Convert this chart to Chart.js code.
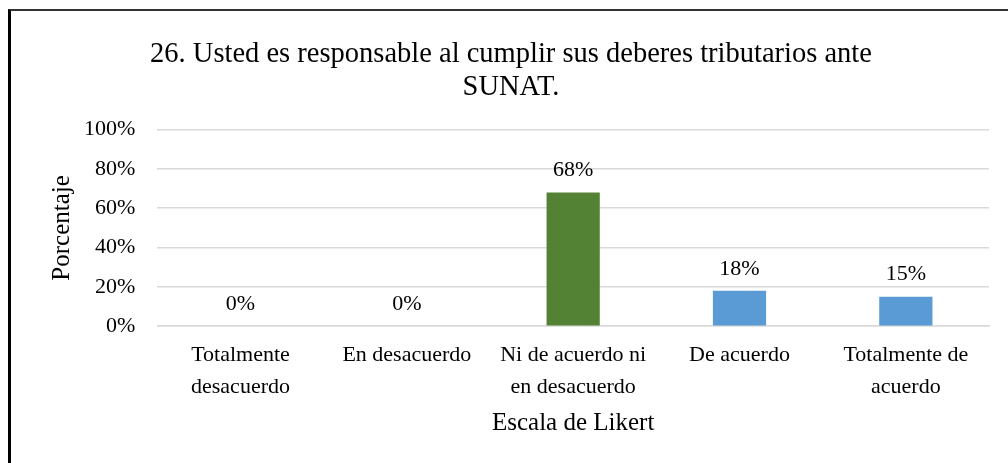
<!DOCTYPE html>
<html>
<head>
<meta charset="utf-8">
<script src="https://cdn.jsdelivr.net/npm/chart.js@4.4.1/dist/chart.umd.min.js"></script>
<style>
  html, body { margin: 0; padding: 0; background: #fff; }
  #wrap { position: relative; width: 1008px; height: 463px; overflow: hidden; }
  /* marco del gráfico (solo se ven los bordes izquierdo y superior) */
  #marco { position: absolute; left: 8px; top: 9px; width: 1100px; height: 600px;
           border-left: 3px solid #000; border-top: 2px solid #333; box-sizing: border-box; }
  #grafico { position: absolute; left: 0; top: 0; }
</style>
</head>
<body>
<div id="wrap">
  <div id="marco"></div>
  <canvas id="grafico" width="1008" height="463"></canvas>
</div>
<script>
// Datos de la pregunta 26
const categorias = [
  ['Totalmente', 'desacuerdo'],
  ['En desacuerdo'],
  ['Ni de acuerdo ni', 'en desacuerdo'],
  ['De acuerdo'],
  ['Totalmente de', 'acuerdo']
];
const porcentajes = [0, 0, 68, 18, 15];
const coloresBarra = ['#5B9BD5', '#5B9BD5', '#548235', '#5B9BD5', '#5B9BD5'];
const ticksY = [0, 20, 40, 60, 80, 100];

const fuente = "'Liberation Serif', 'Times New Roman', serif";

// Etiquetas de valor encima de cada barra
const etiquetasValor = {
  id: 'etiquetasValor',
  afterDatasetsDraw(chart) {
    const ctx = chart.ctx;
    const meta = chart.getDatasetMeta(0);
    ctx.save();
    ctx.font = '22px ' + fuente;
    ctx.fillStyle = '#000';
    ctx.textAlign = 'center';
    ctx.textBaseline = 'middle';
    meta.data.forEach((barra, i) => {
      ctx.fillText(porcentajes[i] + '%', barra.x, barra.y - 22);
    });
    ctx.restore();
  }
};

new Chart(document.getElementById('grafico'), {
  type: 'bar',
  data: {
    labels: categorias,
    datasets: [{
      data: porcentajes,
      backgroundColor: coloresBarra,
      borderWidth: 0,
      barPercentage: 0.32,
      categoryPercentage: 1
    }]
  },
  options: {
    responsive: false,
    animation: false,
    layout: { padding: { top: 28, left: 33, right: 19, bottom: 25 } },
    plugins: {
      legend: { display: false },
      tooltip: { enabled: false },
      title: {
        display: true,
        text: ['26. Usted es responsable al cumplir sus deberes tributarios ante', 'SUNAT.'],
        color: '#000',
        font: { family: fuente, size: 28.5, weight: 'normal', lineHeight: 1.15 },
        padding: { top: 10, bottom: 26 }
      }
    },
    scales: {
      y: {
        min: 0,
        max: 100,
        afterBuildTicks(scale) {
          scale.ticks = ticksY.map(v => ({ value: v }));
        },
        ticks: {
          color: '#000',
          padding: 22,
          font: { family: fuente, size: 22 },
          callback: v => v + '%'
        },
        grid: { color: '#d9d9d9', lineWidth: 1.5, drawTicks: false },
        border: { display: false },
        title: {
          display: true,
          text: 'Porcentaje',
          color: '#000',
          font: { family: fuente, size: 25 },
          padding: { top: 14, bottom: -15 }
        }
      },
      x: {
        ticks: {
          color: '#000',
          padding: 13,
          maxRotation: 0,
          autoSkip: false,
          font: { family: fuente, size: 22, lineHeight: 1.45 }
        },
        grid: { display: false, drawTicks: false },
        border: { display: true, color: '#d9d9d9', width: 1.5 },
        title: {
          display: true,
          text: 'Escala de Likert',
          color: '#000',
          font: { family: fuente, size: 25 },
          padding: { top: -8, bottom: 0 }
        }
      }
    }
  },
  plugins: [etiquetasValor]
});
</script>
</body>
</html>
